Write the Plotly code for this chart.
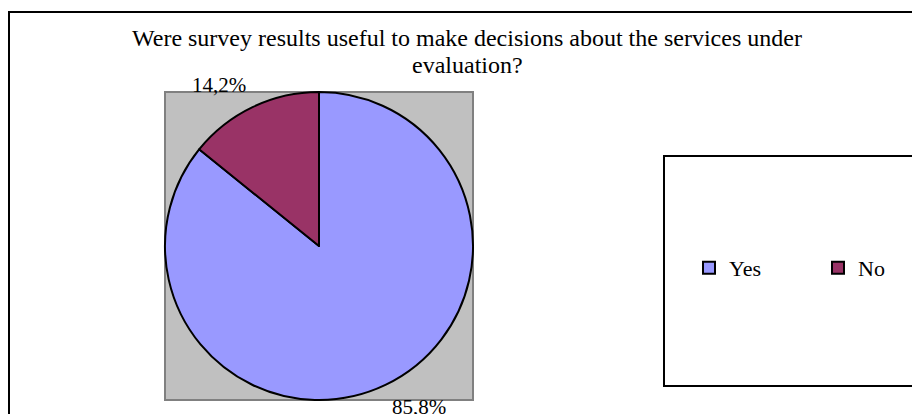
import plotly.graph_objects as go

# Survey answers (share of respondents, %)
categories = ["Yes", "No"]
shares = [85.8, 14.2]
colors = ["#9999FF", "#993366"]
title_lines = [
    "Were survey results useful to make decisions about the services under",
    "evaluation?",
]

W, H = 912, 414
FONT = "Liberation Serif, Times New Roman, serif"


def px(x):
    return x / W


def py(y):
    return (H - y) / H


def open_path(points):
    """SVG path in paper coordinates from a list of pixel points."""
    return "M " + " L ".join(f"{px(x):.5f},{py(y):.5f}" for x, y in points)


# pie box in pixels
bx0, bx1, by0, by1 = 165, 473, 92, 400

fig = go.Figure()
fig.add_trace(go.Pie(
    labels=categories,
    values=shares,
    sort=False,
    direction="clockwise",
    rotation=0,
    marker=dict(colors=colors, line=dict(color="black", width=2)),
    textinfo="none",
    hoverinfo="label+percent",
    domain=dict(x=[px(bx0), px(bx1)], y=[py(by1), py(by0)]),
))

shapes = [
    # outer chart frame (continues past the right and bottom edges)
    dict(type="path", xref="paper", yref="paper",
         path=open_path([(9, H), (9, 12), (W, 12)]),
         line=dict(color="black", width=2), layer="below"),
    # grey area behind the pie
    dict(type="rect", xref="paper", yref="paper", x0=px(bx0), x1=px(bx1), y0=py(by1), y1=py(by0),
         line=dict(color="#808080", width=2), fillcolor="#C0C0C0", layer="below"),
    # legend frame (open on the right edge)
    dict(type="path", xref="paper", yref="paper",
         path=open_path([(W, 156), (664, 156), (664, 386), (W, 386)]),
         line=dict(color="black", width=2), layer="below"),
]

annotations = []
for i, line in enumerate(title_lines):
    annotations.append(dict(
        text=line, x=px(467), y=py(38 + 27 * i), xref="paper", yref="paper",
        xanchor="center", yanchor="middle", showarrow=False,
        font=dict(family=FONT, size=24, color="black")))

# percentage labels next to the slices
label_pos = {"No": (219, 85), "Yes": (419, 407)}
for cat, val in zip(categories, shares):
    lx, ly = label_pos[cat]
    annotations.append(dict(
        text=f"{val:.1f}%".replace(".", ","), x=px(lx), y=py(ly), xref="paper", yref="paper",
        xanchor="center", yanchor="middle", showarrow=False,
        font=dict(family=FONT, size=21, color="black")))

fig.update_layout(
    width=W, height=H,
    margin=dict(l=0, r=0, t=0, b=0, autoexpand=False),
    paper_bgcolor="white",
    plot_bgcolor="white",
    showlegend=True,
    legend=dict(orientation="h", x=px(689), y=py(268), xanchor="left", yanchor="middle",
                bgcolor="rgba(0,0,0,0)", borderwidth=0,
                font=dict(family=FONT, size=22, color="black"),
                entrywidth=84, entrywidthmode="pixels", traceorder="normal"),
    shapes=shapes,
    annotations=annotations,
)

fig.write_html("out.html")
